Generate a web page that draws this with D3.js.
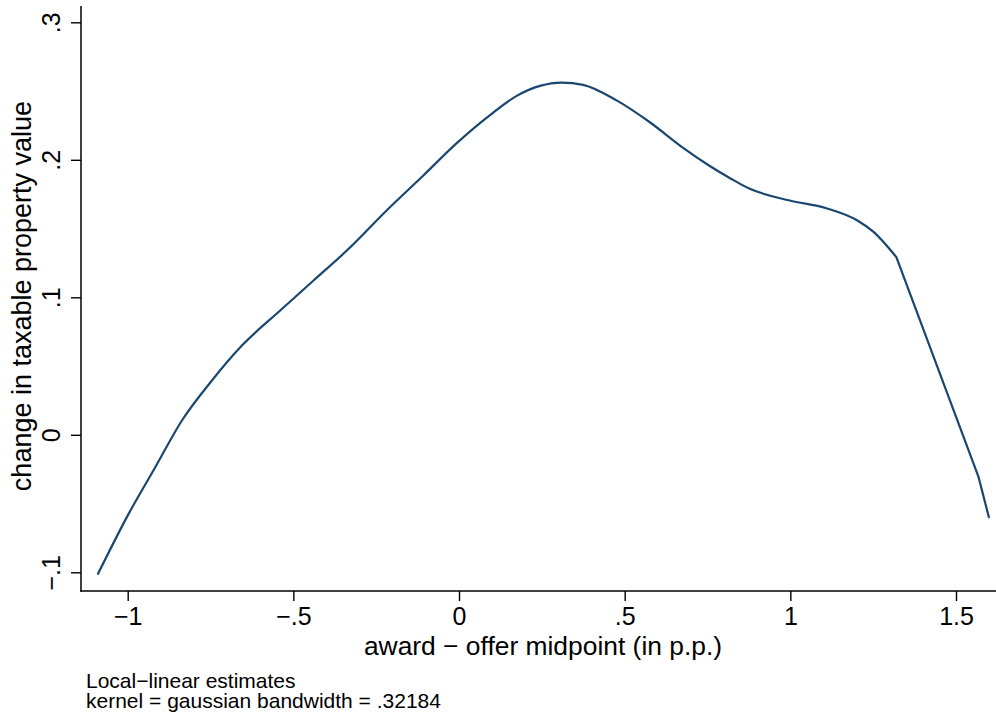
<!DOCTYPE html>
<html>
<head>
<meta charset="utf-8">
<script src="https://cdn.jsdelivr.net/npm/d3@7"></script>
<style>
  html, body { margin: 0; padding: 0; background: #ffffff; }
  svg { display: block; font-family: "Liberation Sans", Arial, Helvetica, sans-serif; }
</style>
</head>
<body>
<svg id="chart" width="996" height="717"></svg>
<script>
// Local-linear smooth: grid points (award − offer midpoint) and fitted values
const gridX = [-1.0896, -0.9973, -0.9168, -0.8363, -0.7458, -0.6553, -0.5398, -0.44, -0.3387, -0.2132,
  -0.1077, -0.0069, 0.0935, 0.174, 0.2443, 0.3097, 0.3749, 0.4756, 0.576, 0.6764,
  0.7569, 0.817, 0.8776, 0.9982, 1.1089, 1.2024, 1.2494, 1.32, 1.5682, 1.5992];
const fitY = [-0.1011, -0.0575, -0.0236, 0.0104, 0.0395, 0.0649, 0.0904, 0.112, 0.134, 0.1644,
  0.1886, 0.2121, 0.2325, 0.2465, 0.2538, 0.2562, 0.2545, 0.2432, 0.2273, 0.2087,
  0.1955, 0.1868, 0.1789, 0.1704, 0.1648, 0.1559, 0.1479, 0.1292, -0.0308, -0.0599];

// Axis ticks and their labels
const xTicks = [-1, -0.5, 0, 0.5, 1, 1.5];
const xTickLabels = ["\u22121", "\u2212.5", "0", ".5", "1", "1.5"];
const yTicks = [-0.1, 0, 0.1, 0.2, 0.3];
const yTickLabels = ["\u2212.1", "0", ".1", ".2", ".3"];

// Text
const xTitle = "award \u2212 offer midpoint (in p.p.)";
const yTitle = "change in taxable property value";
const noteLines = ["Local\u2212linear estimates", "kernel = gaussian bandwidth = .32184"];

const svg = d3.select("#chart");

// Plot region edges
const plotLeft = 81, plotRight = 996, plotTop = 6, plotBottom = 591;

const x = d3.scaleLinear().domain([-1, 1.5]).range([127.7, 956]);
const y = d3.scaleLinear().domain([-0.1, 0.3]).range([572.3, 22.3]);

const lineColor = "#1a476f";
const axisColor = "#000000";

// Fitted curve: smooth through the hump, straight across the steep right tail
const pts = gridX.map((v, i) => [v, fitY[i]]);
const breakAt = gridX.indexOf(1.32);
const smoothPart = pts.slice(0, breakAt + 1);
const tailPart = pts.slice(breakAt);

const lineSmooth = d3.line().x(d => x(d[0])).y(d => y(d[1])).curve(d3.curveMonotoneX);
const lineStraight = d3.line().x(d => x(d[0])).y(d => y(d[1])).curve(d3.curveLinear);

svg.append("path")
  .attr("fill", "none")
  .attr("stroke", lineColor)
  .attr("stroke-width", 2.2)
  .attr("stroke-linejoin", "round")
  .attr("stroke-linecap", "round")
  .attr("d", lineSmooth(smoothPart) + lineStraight(tailPart).replace(/^M/, "L"));

// X axis
const xAxis = d3.axisBottom(x)
  .tickValues(xTicks)
  .tickFormat((d, i) => xTickLabels[i])
  .tickSize(10)
  .tickPadding(6);
const gx = svg.append("g").attr("transform", `translate(0,${plotBottom})`).call(xAxis);
gx.select(".domain").remove();
gx.selectAll(".tick line").attr("stroke", axisColor).attr("stroke-width", 1.4);
gx.selectAll(".tick text").attr("fill", "#000").attr("font-size", 25).attr("font-family", "Liberation Sans, Arial, sans-serif");

// Y axis with rotated labels
const yAxis = d3.axisLeft(y)
  .tickValues(yTicks)
  .tickFormat((d, i) => yTickLabels[i])
  .tickSize(10);
const gy = svg.append("g").attr("transform", `translate(${plotLeft},0)`).call(yAxis);
gy.select(".domain").remove();
gy.selectAll(".tick line").attr("stroke", axisColor).attr("stroke-width", 1.4);
gy.selectAll(".tick text")
  .attr("fill", "#000")
  .attr("font-size", 25)
  .attr("font-family", "Liberation Sans, Arial, sans-serif")
  .attr("x", null).attr("dy", null)
  .attr("text-anchor", "middle")
  .attr("transform", "translate(-21,0) rotate(-90)");

// Axis lines
svg.append("line")
  .attr("x1", plotLeft).attr("x2", plotLeft)
  .attr("y1", plotTop).attr("y2", plotBottom + 0.7)
  .attr("stroke", axisColor).attr("stroke-width", 1.5);
svg.append("line")
  .attr("x1", plotLeft - 0.7).attr("x2", plotRight)
  .attr("y1", plotBottom).attr("y2", plotBottom)
  .attr("stroke", axisColor).attr("stroke-width", 1.5);

// Axis titles
svg.append("text")
  .attr("x", 543)
  .attr("y", 655)
  .attr("text-anchor", "middle")
  .attr("font-size", 26.4)
  .attr("fill", "#000")
  .text(xTitle);

svg.append("text")
  .attr("transform", `translate(31,296) rotate(-90)`)
  .attr("text-anchor", "middle")
  .attr("font-size", 27)
  .attr("fill", "#000")
  .text(yTitle);

// Note below the graph
svg.append("g").selectAll("text")
  .data(noteLines)
  .join("text")
  .attr("x", 86)
  .attr("y", (d, i) => 688 + i * 20)
  .attr("font-size", 21)
  .attr("fill", "#000")
  .text(d => d);
</script>
</body>
</html>
